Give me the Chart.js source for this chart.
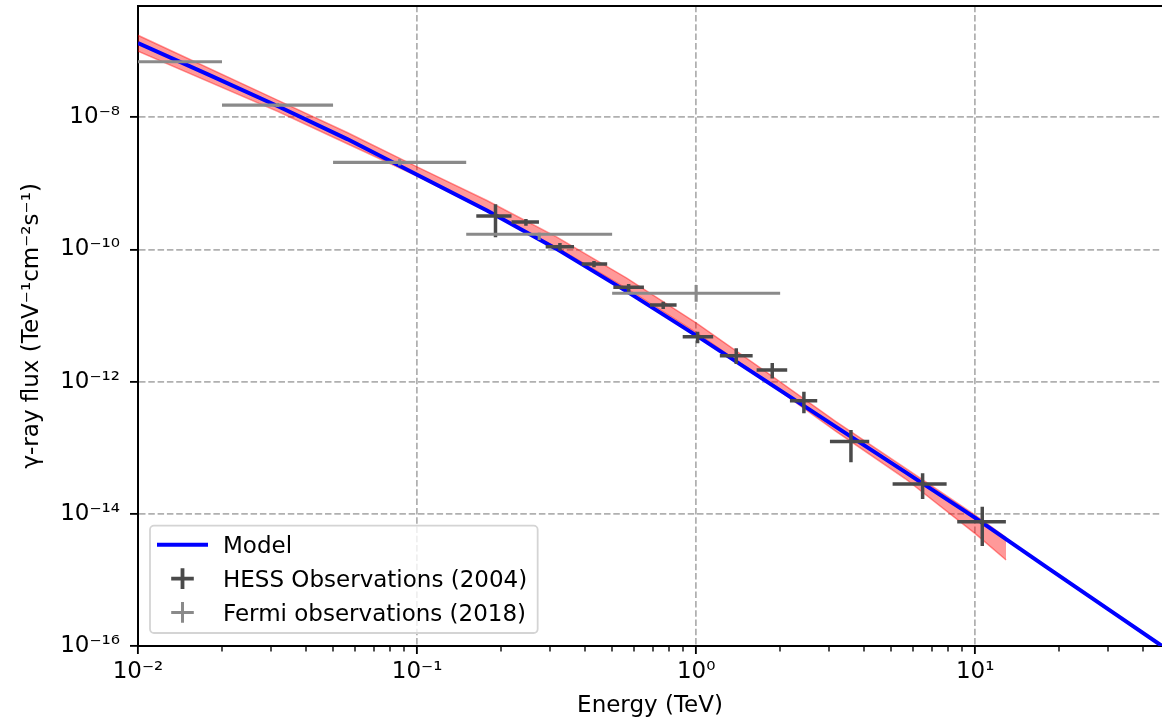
<!DOCTYPE html>
<html>
<head>
<meta charset="utf-8">
<script src="https://cdn.jsdelivr.net/npm/chart.js@4.4.1/dist/chart.umd.min.js"></script>
<style>
html, body { margin: 0; padding: 0; background: #ffffff; overflow: hidden; }
canvas { display: block; }
</style>
</head>
<body>
<canvas id="chart" width="1162" height="724"></canvas>
<script>
// ---------------- data ----------------
const seriesLabels = ['Model', 'HESS Observations (2004)', 'Fermi observations (2018)'];
const xTitle = 'Energy (TeV)';
const yTitle = 'γ-ray flux (TeV⁻¹cm⁻²s⁻¹)';

// Model curve (TeV, TeV^-1 cm^-2 s^-1)
const modelEnergy = [0.01, 0.0178, 0.0316, 0.0562, 0.1, 0.178, 0.316, 0.562, 1.0, 1.78, 3.16, 5.62, 10.0, 17.8, 31.6, 46.7];
const modelFlux   = [1.33e-7, 4.47e-8, 1.48e-8, 4.68e-9, 1.35e-9, 3.89e-10, 1.02e-10, 2.34e-11, 5.01e-12, 1.02e-12, 2.09e-13, 4.27e-14, 8.71e-15, 1.62e-15, 3.09e-16, 1.0e-16];

// Uncertainty band of the model
const bandEnergy = [0.01, 0.0316, 0.0562, 0.1, 0.178, 0.316, 0.562, 1.0, 1.78, 3.16, 5.62, 10.0, 12.9];
const bandUpper  = [1.74e-7, 1.82e-8, 5.89e-9, 1.78e-9, 5.50e-10, 1.55e-10, 3.72e-11, 7.76e-12, 1.41e-12, 2.51e-13, 4.90e-14, 9.55e-15, 4.37e-15];
const bandLower  = [1.00e-7, 1.23e-8, 3.98e-9, 1.29e-9, 3.80e-10, 1.07e-10, 2.57e-11, 5.50e-12, 1.02e-12, 1.78e-13, 3.39e-14, 5.01e-15, 2.00e-15];

// HESS observations (2004)
const hessEnergy     = [0.191, 0.2455, 0.325, 0.4305, 0.573, 0.762, 1.012, 1.392, 1.874, 2.433, 3.587, 6.479, 10.60];
const hessEnergyLow  = [0.163, 0.218, 0.289, 0.389, 0.505, 0.683, 0.895, 1.216, 1.647, 2.168, 3.016, 5.058, 8.62];
const hessEnergyHigh = [0.218, 0.2734, 0.365, 0.480, 0.650, 0.851, 1.151, 1.594, 2.120, 2.716, 4.171, 7.899, 12.88];
const hessFlux       = [3.21e-10, 2.61e-10, 1.10e-10, 6.03e-11, 2.68e-11, 1.45e-11, 4.79e-12, 2.47e-12, 1.50e-12, 5.15e-13, 1.24e-13, 2.83e-14, 7.60e-15];
const hessFluxLow    = [1.53e-10, 2.29e-10, 9.59e-11, 5.37e-11, 2.30e-11, 1.26e-11, 3.80e-12, 1.85e-12, 1.12e-12, 3.32e-13, 6.02e-14, 1.68e-14, 3.26e-15];
const hessFluxHigh   = [4.83e-10, 2.89e-10, 1.25e-10, 6.70e-11, 3.01e-11, 1.62e-11, 5.70e-12, 3.20e-12, 1.92e-12, 7.05e-13, 1.86e-13, 4.11e-14, 1.28e-14];

// Fermi observations (2018)
const fermiEnergy     = [0.0141, 0.0316, 0.0866, 0.274, 1.0];
const fermiEnergyLow  = [0.01, 0.02, 0.05, 0.15, 0.5];
const fermiEnergyHigh = [0.02, 0.05, 0.15, 0.5, 2.0];
const fermiFlux       = [6.93e-8, 1.53e-8, 2.08e-9, 1.70e-10, 2.17e-11];
const fermiFluxLow    = [6.75e-8, 1.43e-8, 1.86e-9, 1.39e-10, 1.62e-11];
const fermiFluxHigh   = [7.10e-8, 1.64e-8, 2.33e-9, 1.80e-10, 2.90e-11];

// Axes
const xRange = [0.01, 46.7];
const yRange = [1e-16, 4.88e-7];
const xMajorTicks = [0.01, 0.1, 1, 10];
const xTickLabels = ['10⁻²', '10⁻¹', '10⁰', '10¹'];
const xMinorMultipliers = [2, 3, 4, 5, 6, 7, 8, 9];
const yMajorTicks = [1e-16, 1e-14, 1e-12, 1e-10, 1e-8];
const yTickLabels = ['10⁻¹⁶', '10⁻¹⁴', '10⁻¹²', '10⁻¹⁰', '10⁻⁸'];

// ---------------- helpers ----------------
const FONT = 'DejaVu Sans';
const FS = 23;

function pairs(xs, ys) { return xs.map((x, i) => ({ x: x, y: ys[i] })); }

function errorBarPoints(e, eLo, eHi, f, fLo, fHi) {
  const pts = [];
  e.forEach((ei, i) => {
    pts.push({ x: eLo[i], y: f[i] }, { x: eHi[i], y: f[i] }, { x: ei, y: null },
             { x: ei, y: fLo[i] }, { x: ei, y: fHi[i] }, { x: ei, y: null });
  });
  return pts;
}

function sameLog(a, b) { return Math.abs(Math.log10(a) - Math.log10(b)) < 1e-6; }

function labelFrom(values, labels, v) {
  const i = values.findIndex(t => sameLog(t, v));
  return i >= 0 ? labels[i] : '';
}

const xTickObjects = [];
xMajorTicks.forEach(d => {
  if (d <= xRange[1]) xTickObjects.push({ value: d, minor: false });
  xMinorMultipliers.forEach(m => {
    const v = d * m;
    if (v <= xRange[1] * 1.000001) xTickObjects.push({ value: v, minor: true });
  });
});
xTickObjects.sort((a, b) => a.value - b.value);

const isMinor = c => !!(c.tick && c.tick.minor);

// ---------------- legend (matplotlib style, inside the axes) ----------------
const mplLegend = {
  id: 'mplLegend',
  afterDraw(chart) {
    const ctx = chart.ctx;
    const a = chart.chartArea;
    const ds = chart.data.datasets;
    const items = [
      { text: ds[2].label, kind: 'line',  color: ds[2].borderColor, width: 4 },
      { text: ds[1].label, kind: 'cross', color: ds[1].borderColor, width: 3.8 },
      { text: ds[0].label, kind: 'cross', color: ds[0].borderColor, width: 3.0 }
    ];
    ctx.save();
    ctx.font = FS + 'px "' + FONT + '"';
    const textX = a.left + 85;
    const maxW = Math.max.apply(null, items.map(it => ctx.measureText(it.text).width));
    const left = a.left + 12, right = textX + maxW + 10.5;
    const top = a.bottom - 120.3, bottom = a.bottom - 13;
    const r = 4;
    ctx.beginPath();
    ctx.moveTo(left + r, top);
    ctx.arcTo(right, top, right, bottom, r);
    ctx.arcTo(right, bottom, left, bottom, r);
    ctx.arcTo(left, bottom, left, top, r);
    ctx.arcTo(left, top, right, top, r);
    ctx.closePath();
    ctx.fillStyle = 'rgba(255,255,255,0.8)';
    ctx.fill();
    ctx.lineWidth = 1.8;
    ctx.strokeStyle = '#d4d4d4';
    ctx.stroke();

    const baselines = [a.bottom - 92.8, a.bottom - 59, a.bottom - 25.2];
    const cx = a.left + 44.5;
    items.forEach((it, i) => {
      const cy = baselines[i] - 8.4;
      ctx.strokeStyle = it.color;
      ctx.lineWidth = it.width;
      ctx.lineCap = 'butt';
      ctx.beginPath();
      if (it.kind === 'line') {
        ctx.moveTo(cx - 25.5, cy);
        ctx.lineTo(cx + 25.5, cy);
      } else {
        ctx.moveTo(cx - 11.3, cy);
        ctx.lineTo(cx + 11.3, cy);
        ctx.moveTo(cx, cy - 10.3);
        ctx.lineTo(cx, cy + 10.3);
      }
      ctx.stroke();
      ctx.fillStyle = '#000000';
      ctx.textAlign = 'left';
      ctx.textBaseline = 'alphabetic';
      ctx.fillText(it.text, textX, baselines[i]);
    });
    ctx.restore();
  }
};

// ---------------- chart ----------------
Chart.defaults.font.family = FONT;
Chart.defaults.font.size = FS;
Chart.defaults.color = '#000000';

const gridColor = '#b0b0b0';
const gridDash = [6.5, 2.8];

new Chart(document.getElementById('chart'), {
  type: 'line',
  data: {
    datasets: [
      {
        label: seriesLabels[2],
        data: errorBarPoints(fermiEnergy, fermiEnergyLow, fermiEnergyHigh, fermiFlux, fermiFluxLow, fermiFluxHigh),
        borderColor: '#8a8a8a', borderWidth: 3.1, pointRadius: 0, spanGaps: false, fill: false, order: 0
      },
      {
        label: seriesLabels[1],
        data: errorBarPoints(hessEnergy, hessEnergyLow, hessEnergyHigh, hessFlux, hessFluxLow, hessFluxHigh),
        borderColor: '#4a4a4a', borderWidth: 3.5, pointRadius: 0, spanGaps: false, fill: false, order: 1
      },
      {
        label: seriesLabels[0],
        data: pairs(modelEnergy, modelFlux),
        borderColor: '#0000ff', borderWidth: 4, pointRadius: 0, fill: false, order: 2
      },
      {
        label: 'Model uncertainty (upper)',
        data: pairs(bandEnergy, bandUpper),
        borderColor: 'rgba(255,0,0,0.4)', borderWidth: 1.5, pointRadius: 0,
        backgroundColor: 'rgba(255,0,0,0.4)', fill: '+1', order: 3
      },
      {
        label: 'Model uncertainty (lower)',
        data: pairs(bandEnergy, bandLower),
        borderColor: 'rgba(255,0,0,0.4)', borderWidth: 1.5, pointRadius: 0, fill: false, order: 4
      }
    ]
  },
  options: {
    responsive: false,
    animation: false,
    devicePixelRatio: 1,
    layout: { padding: { top: 5.7, right: 0, bottom: 0, left: 0 } },
    elements: { line: { tension: 0, borderCapStyle: 'butt' }, point: { radius: 0, hitRadius: 0 } },
    plugins: { legend: { display: false }, tooltip: { enabled: false } },
    events: [],
    scales: {
      x: {
        type: 'logarithmic', position: 'bottom',
        min: xRange[0], max: xRange[1],
        afterBuildTicks: s => { s.ticks = xTickObjects.map(t => ({ value: t.value, minor: t.minor })); },
        afterFit: s => { s.height = 78; s.paddingLeft = 0; s.paddingRight = 0; },
        ticks: {
          autoSkip: false, maxRotation: 0, minRotation: 0, padding: 4.6, color: '#000',
          font: { size: FS },
          callback: v => labelFrom(xMajorTicks, xTickLabels, v)
        },
        grid: {
          color: c => isMinor(c) ? 'rgba(0,0,0,0)' : gridColor,
          lineWidth: c => isMinor(c) ? 0 : 1.76,
          tickLength: 8,
          tickColor: '#000000',
          tickWidth: c => isMinor(c) ? 1.38 : 1.84,
          tickBorderDash: c => isMinor(c) ? [4.6, 30] : []
        },
        border: { display: true, color: '#000000', width: 2, dash: gridDash },
        title: { display: true, text: xTitle, color: '#000', font: { size: FS }, padding: { top: 0, bottom: 4 } }
      },
      xTop: {
        type: 'logarithmic', position: 'top',
        min: xRange[0], max: xRange[1],
        afterFit: s => { s.height = 0; s.paddingLeft = 0; s.paddingRight = 0; },
        ticks: { display: false },
        grid: { display: false, drawTicks: false },
        border: { display: true, color: '#000000', width: 2 }
      },
      y: {
        type: 'logarithmic', position: 'left',
        min: yRange[0], max: yRange[1],
        afterBuildTicks: s => { s.ticks = yMajorTicks.map(v => ({ value: v })); },
        afterFit: s => { s.width = 138; s.paddingTop = 0; s.paddingBottom = 0; },
        ticks: {
          autoSkip: false, padding: 10, color: '#000',
          font: { size: FS },
          callback: v => labelFrom(yMajorTicks, yTickLabels, v)
        },
        grid: {
          color: gridColor, lineWidth: 1.76,
          tickLength: 8, tickColor: '#000000', tickWidth: 1.84
        },
        border: { display: true, color: '#000000', width: 2, dash: gridDash },
        title: { display: true, text: yTitle, color: '#000', font: { size: FS }, padding: { top: 18.2, bottom: 0 } }
      }
    }
  },
  plugins: [mplLegend]
});
</script>
</body>
</html>
